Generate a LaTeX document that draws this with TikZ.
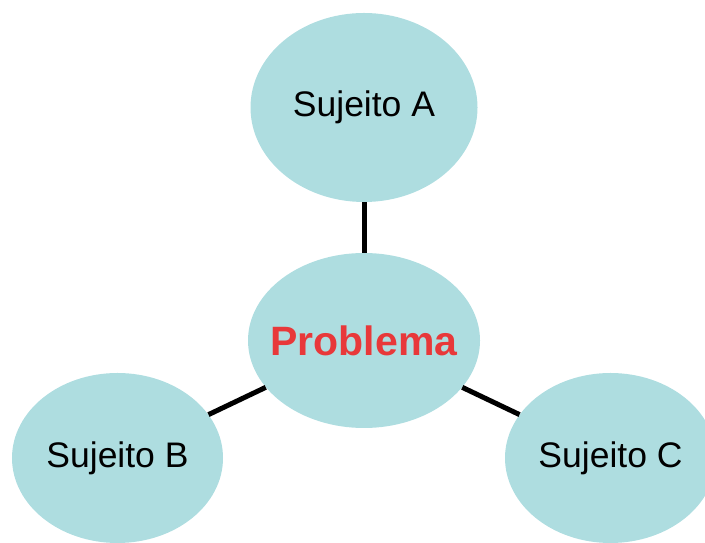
\documentclass[tikz,border=0pt]{standalone}
\usepackage{fontspec}
\setmainfont{Liberation Sans}
\usepackage{tikz}
\usetikzlibrary{shapes.geometric,positioning}
\definecolor{bolha}{RGB}{174,221,224}
\definecolor{vermelho}{RGB}{232,56,58}

\begin{document}
\begin{tikzpicture}[x=1bp,y=1bp,
    sub/.style = {ellipse, fill=bolha, inner sep=0pt, minimum width=211bp, minimum height=170bp, font=\fontsize{35.5bp}{40bp}\selectfont},
    lig/.style = {line width=5bp}]
			\clip (0,0) rectangle (705,543);
			\node[sub, inner xsep=-12bp, minimum width=232bp, minimum height=175bp, font=\fontsize{41bp}{46bp}\selectfont\bfseries, text=vermelho] (P) at (364,202.5) {Problema};
			\node[sub, minimum width=227bp, minimum height=189bp] (A) at (364,435.5) {Sujeito A};
			\node[sub] (B) at (117.5,85) {Sujeito B};
			\node[sub] (C) at (610.5,85) {Sujeito C};
			\draw[lig] (A)--(P);
			\draw[lig] (B)--(P);
			\draw[lig] (C)--(P);
		\end{tikzpicture}
\end{document}
